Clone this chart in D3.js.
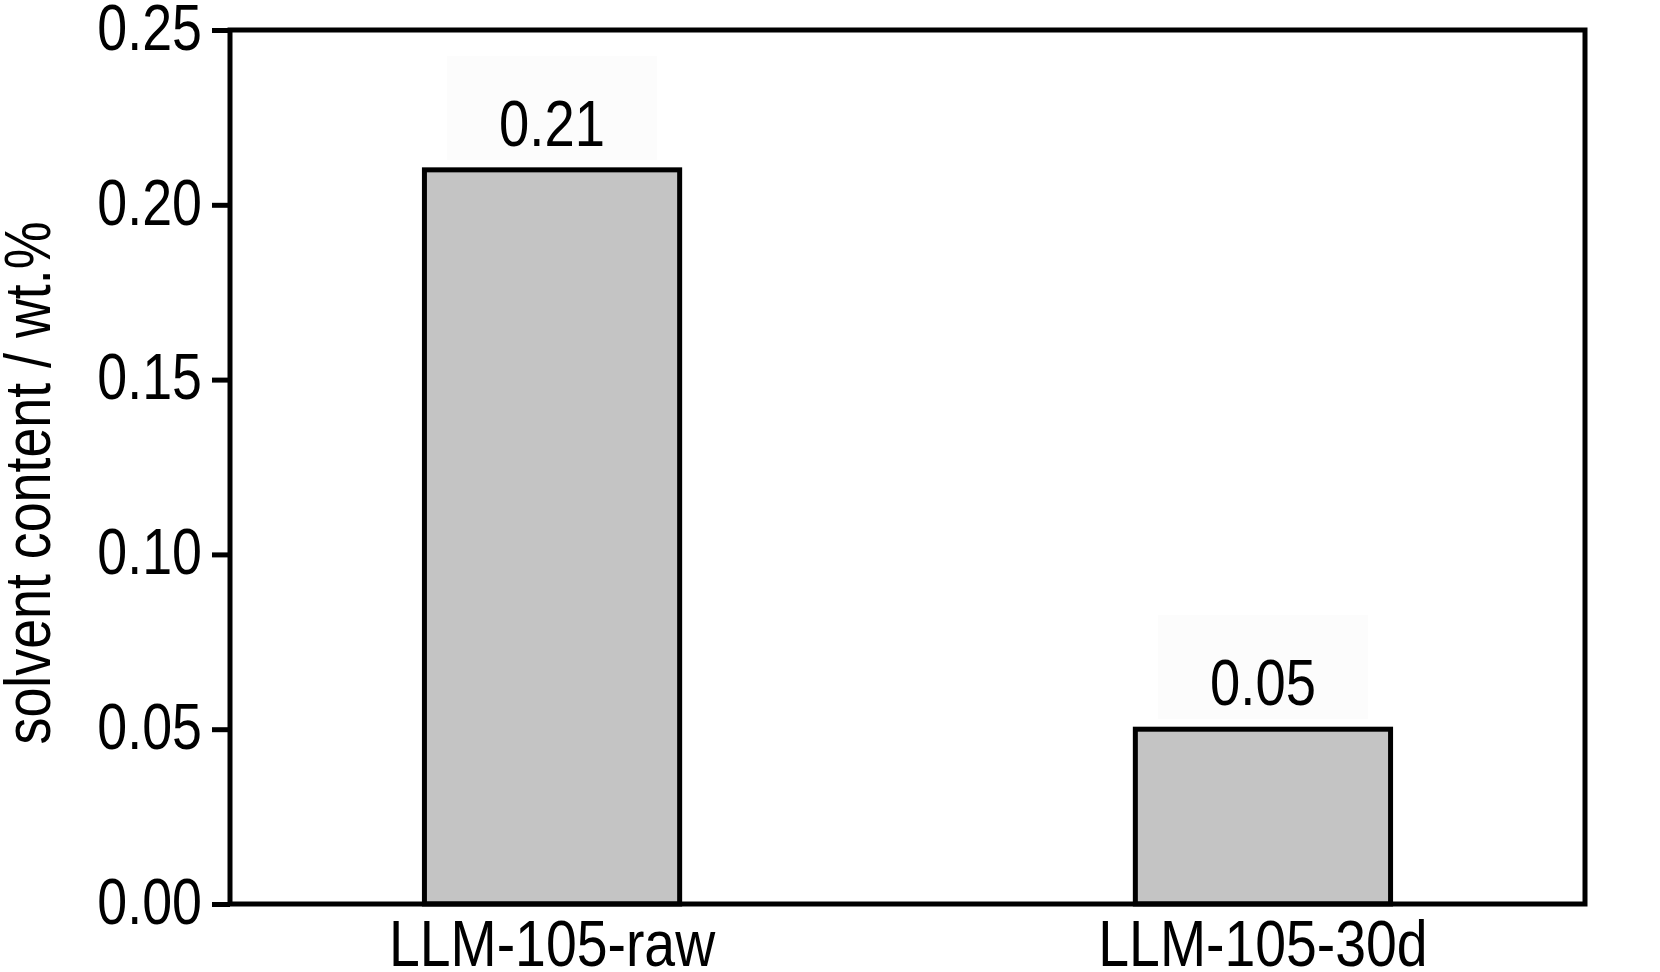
<!DOCTYPE html>
<html><head><meta charset="utf-8">
<script src="https://cdn.jsdelivr.net/npm/d3@7"></script>
<style>
html,body{margin:0;padding:0;background:#fff;}
svg{display:block;}
text{font-family:"Liberation Sans Narrow","Arial Narrow","Liberation Sans",Arial,sans-serif;fill:#000;}
</style></head>
<body>
<svg id="chart" width="1660" height="972"></svg>
<script>
const categories = ["LLM-105-raw", "LLM-105-30d"];
const values = [0.21, 0.05];
const valueLabels = ["0.21", "0.05"];
const yTicks = [0.00, 0.05, 0.10, 0.15, 0.20, 0.25];
const yTitle = "solvent content / wt.%";

const W = 1660, H = 972;
const m = {left: 230, right: 75, top: 30, bottom: 68};
const svg = d3.select("#chart");
const x = d3.scaleBand().domain(categories).range([m.left, W - m.right]).paddingInner(0.641).paddingOuter(0.2735);
const y = d3.scaleLinear().domain([0, 0.25]).range([H - m.bottom, m.top]);

const FS = 64;
function condense(sel, k) {
  sel.each(function() {
    const len = this.getComputedTextLength();
    d3.select(this).attr("textLength", len * k).attr("lengthAdjust", "spacingAndGlyphs");
  });
}

// faint label boxes
svg.append("g").selectAll("rect").data(categories).join("rect")
  .attr("x", d => x(d) + x.bandwidth()/2 - 105)
  .attr("y", (d,i) => y(values[i]) - 114)
  .attr("width", 210).attr("height", 104)
  .attr("fill", "#fcfcfc");

// bars
svg.append("g").selectAll("rect").data(categories).join("rect")
  .attr("x", d => x(d))
  .attr("y", (d,i) => y(values[i]))
  .attr("width", x.bandwidth())
  .attr("height", (d,i) => y(0) - y(values[i]))
  .attr("fill", "#c4c4c4").attr("stroke", "#000").attr("stroke-width", 5);

// value labels
svg.append("g").selectAll("text").data(categories).join("text")
  .attr("x", d => x(d) + x.bandwidth()/2)
  .attr("y", (d,i) => y(values[i]) - 24)
  .attr("text-anchor", "middle").attr("font-size", FS)
  .text((d,i) => valueLabels[i])
  .call(condense, 0.85);

// frame
svg.append("rect").attr("x", m.left).attr("y", m.top)
  .attr("width", W - m.right - m.left).attr("height", H - m.bottom - m.top)
  .attr("fill", "none").attr("stroke", "#000").attr("stroke-width", 5);

// y axis
const yAxis = svg.append("g").attr("transform", `translate(${m.left},0)`)
  .call(d3.axisLeft(y).tickValues(yTicks).tickFormat(d3.format(".2f")).tickSize(18).tickPadding(10));
yAxis.select(".domain").remove();
yAxis.selectAll(".tick line").attr("stroke", "#000").attr("stroke-width", 5);
yAxis.selectAll(".tick text").attr("font-size", FS).attr("font-family", null).attr("dy", "0.30em").attr("fill", "#000")
  .call(condense, 0.84);

// x axis labels
const xAxis = svg.append("g").attr("transform", `translate(0,${H - m.bottom})`)
  .call(d3.axisBottom(x).tickSize(0).tickPadding(0));
xAxis.select(".domain").remove();
xAxis.selectAll(".tick text").attr("font-size", FS).attr("font-family", null).attr("dy", null).attr("y", 62).attr("fill", "#000")
  .call(condense, 0.865);

// y title
svg.append("text").attr("transform", `translate(50,${(m.top + H - m.bottom)/2 + 16}) rotate(-90)`)
  .attr("text-anchor", "middle").attr("font-size", FS).text(yTitle)
  .call(condense, 0.84);
</script>
</body></html>
